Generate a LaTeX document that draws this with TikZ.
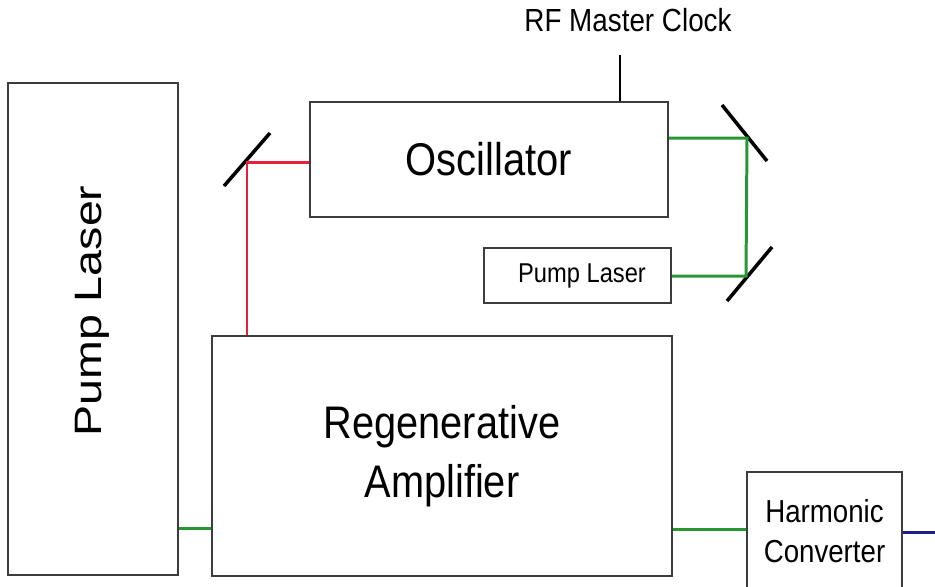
\documentclass[tikz,border=0pt]{standalone}
\usepackage{fontspec}
\setmainfont[FakeStretch=0.87]{Liberation Sans}
\newfontfamily\plainsans{Liberation Sans}
\usepackage{xcolor}
\usepackage{tikz}
\usetikzlibrary{positioning}

\definecolor{beamred}{RGB}{228,32,58}
\definecolor{beamgreen}{RGB}{40,150,50}
\definecolor{beamblue}{RGB}{30,30,140}
\definecolor{edgegray}{RGB}{60,60,60}

\begin{document}
\begin{tikzpicture}[
    x=0.02cm, y=-0.02cm,
    box/.style={rectangle, draw=edgegray, line width=1.1pt, inner sep=0pt, align=center},
    beam/.style={line width=1.7pt},
    mirror/.style={line width=2pt, black}
]
\useasboundingbox (0,0) rectangle (935,586);

% Boxes
\node[box, minimum width=3.4cm, minimum height=9.84cm] (bigpump) at (93,329) {};
\node[rotate=90, yscale=0.82, font=\plainsans\fontsize{26.5}{30}\selectfont] (bigpumptext) at (92,311) {Pump Laser};
\node[box, minimum width=9.2cm, minimum height=4.8cm, font=\fontsize{26}{33.4}\selectfont] (regen) at (442,456) {Regenerative\\Amplifier};
\node[box, minimum width=7.16cm, minimum height=2.3cm, font=\fontsize{26.1}{30}\selectfont] (osc) at (489,159.5) {Oscillator};
\node[box, minimum width=3.74cm, minimum height=1.1cm, font=\fontsize{15.5}{18}\selectfont] (smallpump) at (577.5,275.5) {\hspace{0.18cm}Pump Laser};
\node[box, minimum width=3.1cm, minimum height=2.36cm, font=\fontsize{18.1}{23.2}\selectfont] (harmonic) at (824.5,531) {Harmonic\\Converter};

% RF clock
\node[font=\fontsize{18.2}{21}\selectfont] (clock) at (628,20) {RF Master Clock};
\coordinate (clkend) at (620,55);
\draw[line width=1.5pt] (clkend) -- (clkend |- osc.north);

% Mirrors
\coordinate (m1) at (247,162);
\coordinate (m2) at (747,138);
\coordinate (m3) at (746,276);
\draw[mirror] ([shift={(-23,24)}]m1) -- ([shift={(23,-29)}]m1);
\draw[mirror] ([shift={(-25,-33)}]m2) -- ([shift={(20,23)}]m2);
\draw[mirror] ([shift={(-19,25)}]m3) -- ([shift={(26,-29)}]m3);

% Beams
\coordinate (pumpin) at (195,528);
\coordinate (ampout) at (710,529);
\coordinate (uvout) at (935,532);
\draw[beam, beamred] (osc.west |- m1) -- (m1) -- (m1 |- regen.north);
\draw[beam, beamgreen] (osc.east |- m2) -- (m2) -- (m3) -- (smallpump.east |- m3);
\draw[beam, beamgreen] (bigpump.east |- pumpin) -- (regen.west |- pumpin);
\draw[beam, beamgreen] (regen.east |- ampout) -- (harmonic.west |- ampout);
\draw[beam, beamblue] (harmonic.east |- uvout) -- (uvout);

\end{tikzpicture}
\end{document}
